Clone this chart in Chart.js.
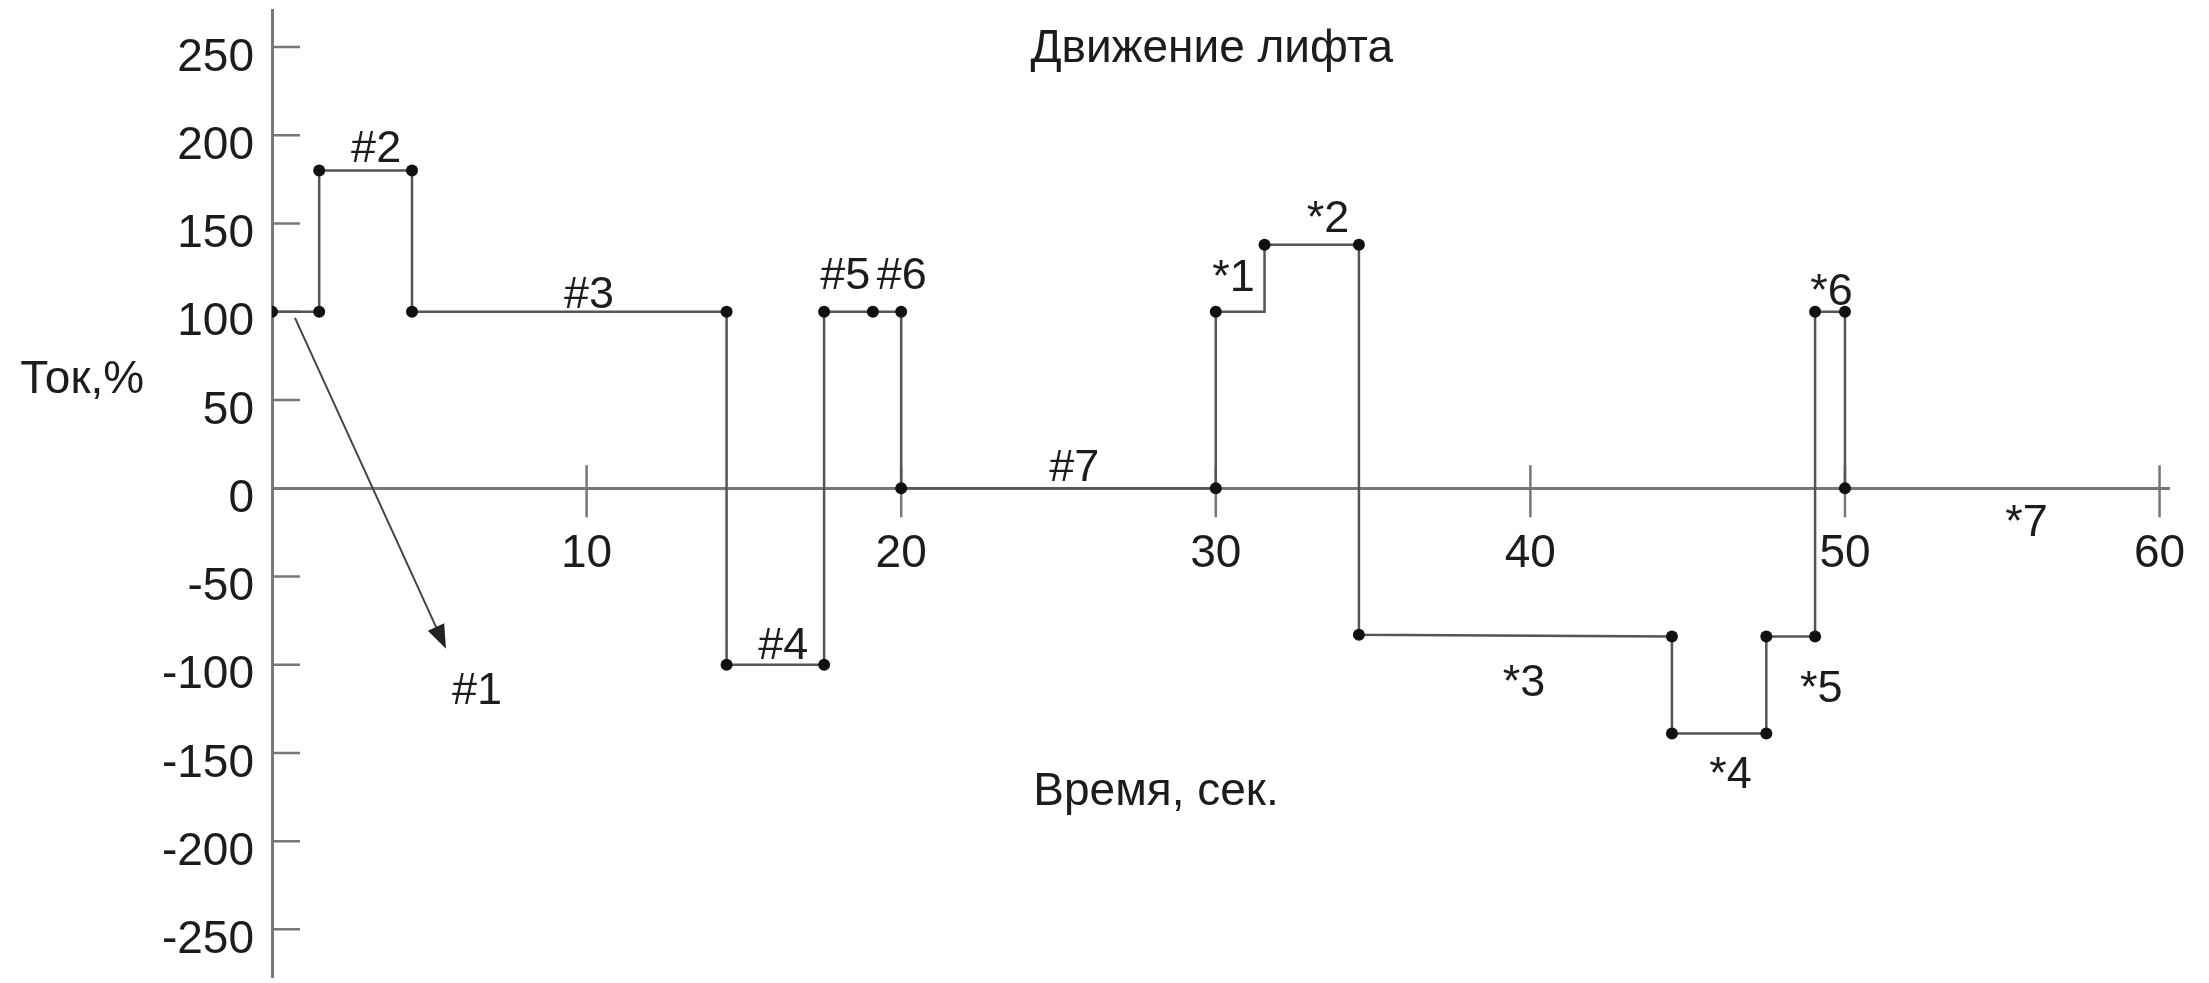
<!DOCTYPE html>
<html>
<head>
<meta charset="utf-8">
<script src="https://cdn.jsdelivr.net/npm/chart.js@4.4.1/dist/chart.umd.min.js"></script>
<style>
  html, body { margin: 0; padding: 0; background: #fff; }
  #wrap { width: 2209px; height: 983px; }
</style>
</head>
<body>
<div id="wrap"><canvas id="liftChart" width="2209" height="983"></canvas></div>
<script>
// lift motor current (%) against time (s), drawn as a step curve
const stepTimes  = [0, 1.5, 1.5, 4.45, 4.45, 14.45, 14.45, 17.55, 17.55, 19.1, 20, 20, 30, 30, 31.55, 31.55, 34.55, 34.55, 44.5, 44.5, 47.5, 47.5, 49.05, 49.05, 50, 50];
const stepValues = [100, 100, 180, 180, 100, 100, -100, -100, 100, 100, 100, 0, 0, 100, 100, 138, 138, -83, -84, -139, -139, -84, -84, 100, 100, 0];

// vertices that carry a dot
const dotTimes  = [0, 1.5, 1.5, 4.45, 4.45, 14.45, 14.45, 17.55, 17.55, 19.1, 20, 20, 30, 30, 31.55, 34.55, 34.55, 44.5, 44.5, 47.5, 47.5, 49.05, 49.05, 50, 50];
const dotValues = [100, 100, 180, 180, 100, 100, -100, -100, 100, 100, 100, 0, 0, 100, 138, 138, -83, -84, -139, -139, -84, -84, 100, 100, 0];

const xTicks = [10, 20, 30, 40, 50, 60];
const yTicks = [-250, -200, -150, -100, -50, 0, 50, 100, 150, 200, 250];

// phase labels, placed in data units
const labelTexts  = ['#1', '#2', '#3', '#4', '#5', '#6', '#7', '*1', '*2', '*3', '*4', '*5', '*6', '*7'];
const labelTimes  = [6.52, 3.31, 10.08, 16.25, 18.22, 20.02, 25.5, 30.56, 33.57, 39.8, 46.36, 49.25, 49.57, 55.77];
const labelValues = [-115, 192, 109, -90, 120, 120, 11, 119, 152, -111, -163, -114, 111, -20];

// arrow pointing to #1
const arrowTimes  = [0.73, 5.53];
const arrowValues = [96.5, -91];

const FONT = '"Liberation Sans", Arial, sans-serif';
const TEXT = '#1c1c1c';
const AXIS = '#777';

const extras = {
  id: 'extras',
  beforeDatasetsDraw(chart) {
    const {ctx, scales: {x, y}} = chart;
    const y0 = y.getPixelForValue(0);
    ctx.save();
    ctx.strokeStyle = AXIS;
    ctx.lineWidth = 2.5;
    ctx.beginPath();
    yTicks.forEach(v => {
      if (v === 0) return;
      const py = y.getPixelForValue(v);
      ctx.moveTo(x.left, py);
      ctx.lineTo(x.left + 28, py);
    });
    xTicks.forEach(v => {
      const px = x.getPixelForValue(v);
      ctx.moveTo(px, y0 - 23);
      ctx.lineTo(px, y0 + 29);
    });
    ctx.stroke();
    ctx.restore();
  },
  afterDatasetsDraw(chart) {
    const {ctx, scales: {x, y}} = chart;
    ctx.save();
    ctx.fillStyle = TEXT;

    ctx.font = '45px ' + FONT;
    ctx.textAlign = 'center';
    ctx.textBaseline = 'middle';
    labelTexts.forEach((t, i) => {
      ctx.fillText(t, x.getPixelForValue(labelTimes[i]), y.getPixelForValue(labelValues[i]));
    });

    // titles
    ctx.font = '46px ' + FONT;
    ctx.textBaseline = 'alphabetic';
    ctx.fillText('Движение лифта', x.getPixelForValue(29.87), y.getPixelForValue(241.5));
    ctx.fillText('Время, сек.', x.getPixelForValue(28.1), y.getPixelForValue(-179.5));
    ctx.textAlign = 'left';
    ctx.fillText('Ток,%', x.getPixelForValue(-8.0), y.getPixelForValue(54));

    // arrow
    const x1 = x.getPixelForValue(arrowTimes[0]), y1 = y.getPixelForValue(arrowValues[0]);
    const x2 = x.getPixelForValue(arrowTimes[1]), y2 = y.getPixelForValue(arrowValues[1]);
    const a = Math.atan2(y2 - y1, x2 - x1);
    ctx.strokeStyle = '#444';
    ctx.lineWidth = 2;
    ctx.beginPath();
    ctx.moveTo(x1, y1);
    ctx.lineTo(x2 - 18 * Math.cos(a), y2 - 18 * Math.sin(a));
    ctx.stroke();
    ctx.fillStyle = '#222';
    ctx.beginPath();
    ctx.moveTo(x2, y2);
    ctx.lineTo(x2 - 24 * Math.cos(a) + 9 * Math.sin(a), y2 - 24 * Math.sin(a) - 9 * Math.cos(a));
    ctx.lineTo(x2 - 24 * Math.cos(a) - 9 * Math.sin(a), y2 - 24 * Math.sin(a) + 9 * Math.cos(a));
    ctx.closePath();
    ctx.fill();
    ctx.restore();
  }
};

// the label overhang padding is not wanted: the plot fills the frame
function noPadding(s) {
  s.paddingTop = 0;
  s.paddingBottom = 0;
  s.paddingLeft = 0;
  s.paddingRight = 0;
}

const ctx = document.getElementById('liftChart').getContext('2d');
new Chart(ctx, {
  type: 'scatter',
  data: {
    datasets: [
      {
        data: stepTimes.map((t, i) => ({x: t, y: stepValues[i]})),
        showLine: true,
        borderColor: '#555',
        borderWidth: 2.5,
        pointRadius: 0,
        order: 2
      },
      {
        data: dotTimes.map((t, i) => ({x: t, y: dotValues[i]})),
        showLine: false,
        pointRadius: 6,
        pointBackgroundColor: '#111',
        pointBorderWidth: 0,
        order: 1
      }
    ]
  },
  options: {
    responsive: false,
    animation: false,
    layout: { padding: { left: 0, right: 40, top: 10, bottom: 0 } },
    plugins: {
      legend: { display: false },
      tooltip: { enabled: false }
    },
    scales: {
      x: {
        type: 'linear',
        min: 0,
        max: 60.3,
        position: { y: 0 },
        afterBuildTicks: s => { s.ticks = xTicks.map(v => ({value: v})); },
        afterFit: noPadding,
        grid: { display: false, drawTicks: false },
        border: { display: true, color: AXIS, width: 3 },
        ticks: { padding: 39, autoSkip: false, maxRotation: 0, color: TEXT, font: { family: FONT, size: 46 } }
      },
      y: {
        type: 'linear',
        min: -277,
        max: 271,
        afterBuildTicks: s => { s.ticks = yTicks.map(v => ({value: v})); },
        afterFit: s => { s.width = 272; noPadding(s); },
        grid: { display: false, drawTicks: false },
        border: { display: true, color: AXIS, width: 3 },
        ticks: { padding: 18, labelOffset: 11, color: TEXT, font: { family: FONT, size: 46 } }
      }
    }
  },
  plugins: [extras]
});
</script>
</body>
</html>
